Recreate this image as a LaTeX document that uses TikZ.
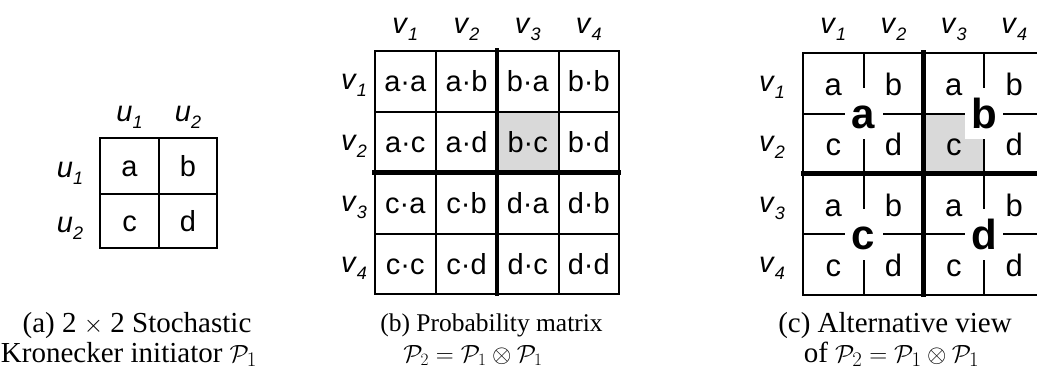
\documentclass[tikz,border=0pt]{standalone}
\usepackage{fontspec}
\setmainfont{Liberation Serif}
\setsansfont{Liberation Sans}
\newcommand{\lbl}[2]{\textit{#1}\raisebox{-0.25em}{\fontsize{18}{18}\selectfont\textit{#2}}}
\tikzset{
  ln/.style={line width=2pt, line cap=rect},
  thk/.style={line width=4.5pt, line cap=rect},
  hdr/.style={font=\sffamily\fontsize{29}{29}\selectfont, anchor=base, inner sep=0pt},
  cella/.style={font=\sffamily\fontsize{29}{29}\selectfont, anchor=base, inner sep=0pt},
  cellb/.style={font=\sffamily\fontsize{29}{29}\selectfont, anchor=base, inner sep=0pt},
  cellc/.style={font=\sffamily\fontsize{31}{31}\selectfont, anchor=base, inner sep=0pt},
  big/.style={fill=white, minimum width=38pt, minimum height=51pt, inner sep=0pt,
    text height=30pt, text depth=0pt, font=\sffamily\bfseries\fontsize{42}{42}\selectfont},
  captext/.style={font=\fontsize{29}{29}\selectfont, anchor=base, inner sep=0pt},
  captextb/.style={font=\fontsize{25.5}{25.5}\selectfont, anchor=base, inner sep=0pt},
  shade/.style={fill=black!15}
}
\begin{document}
\begin{tikzpicture}[x=1pt, y=-1pt]
\useasboundingbox (0,0) rectangle (1037,373);
\clip (0,0) rectangle (1037,373);

% ---------- panel (a) ----------
\draw[ln] (100,138) rectangle (217,248);
\draw[ln] (159,138) -- (159,248);
\draw[ln] (100,193.5) -- (217,193.5);
\node[hdr] (ahu1) at (129.5,121) {\lbl{u}{1}};
\node[hdr] (ahu2) at (188,121) {\lbl{u}{2}};
\node[hdr] (aru1) at (70,177) {\lbl{u}{1}};
\node[hdr] (aru2) at (70,232) {\lbl{u}{2}};
\node[cella] (a11) at (129.5,176) {a};
\node[cella] (a12) at (188,176) {b};
\node[cella] (a21) at (129.5,231) {c};
\node[cella] (a22) at (188,231) {d};

% ---------- panel (b) ----------
\fill[shade] (497,111.5) rectangle (558.5,172.5);
\draw[ln] (374.5,50.5) rectangle (619,294);
\foreach \x in {436,558.5} \draw[ln] (\x,50.5) -- (\x,294);
\foreach \y in {111.5,233.5} \draw[ln] (374.5,\y) -- (619,\y);
\draw[thk] (497,50.5) -- (497,294);
\draw[thk] (374.5,172.5) -- (619,172.5);
\foreach \x/\i in {405.25/1,466.5/2,527.75/3,588.75/4}
  \node[hdr] (bh\i) at (\x,33) {\lbl{v}{\i}};
\foreach \y/\i in {89/1,150/2,211/3,272/4}
  \node[hdr] (br\i) at (354,\y) {\lbl{v}{\i}};
\foreach \x/\y/\t/\n in {
  405.25/91/a·a/11, 466.5/91/a·b/12, 527.75/91/b·a/13, 588.75/91/b·b/14,
  405.25/152/a·c/21, 466.5/152/a·d/22, 527.75/152/b·c/23, 588.75/152/b·d/24,
  405.25/213/c·a/31, 466.5/213/c·b/32, 527.75/213/d·a/33, 588.75/213/d·b/34,
  405.25/274/c·c/41, 466.5/274/c·d/42, 527.75/274/d·c/43, 588.75/274/d·d/44}
  \node[cellb] (b\n) at (\x,\y) {\t};

% ---------- panel (c) ----------
\fill[shade] (923.5,113.5) rectangle (984,173.5);
\draw[ln] (803,52.5) rectangle (1044.5,295);
\foreach \x in {863.5,984} \draw[ln] (\x,52.5) -- (\x,295);
\foreach \y in {113.5,234} \draw[ln] (803,\y) -- (1044.5,\y);
\draw[thk] (923.5,52.5) -- (923.5,295);
\draw[thk] (803,173.5) -- (1044.5,173.5);
\foreach \x/\i in {833.25/1,893.5/2,953.75/3,1014.25/4}
  \node[hdr] (ch\i) at (\x,33) {\lbl{v}{\i}};
\foreach \y/\i in {91/1,151.5/2,212/3,272.5/4}
  \node[hdr] (cr\i) at (772,\y) {\lbl{v}{\i}};
\foreach \x/\y/\t/\n in {
  833.25/95/a/11, 893.5/95/b/12, 953.75/95/a/13, 1014.25/95/b/14,
  833.25/155.5/c/21, 893.5/155.5/d/22, 953.75/155.5/c/23, 1014.25/155.5/d/24,
  833.25/216/a/31, 893.5/216/b/32, 953.75/216/a/33, 1014.25/216/b/34,
  833.25/276.5/c/41, 893.5/276.5/d/42, 953.75/276.5/c/43, 1014.25/276.5/d/44}
  \node[cellc] (c\n) at (\x,\y) {\t};
\node[big] (qa) at (863.5,113.5) {a};
\node[big] (qb) at (984,113.5) {b};
\node[big] (qc) at (863.5,234) {c};
\node[big] (qd) at (984,234) {d};

% ---------- captions ----------
\node[captext] (capa1) at (137,332) {(a) 2 $\times$ 2 Stochastic};
\node[captext] (capa2) at (129,362) {Kronecker initiator $\mathcal{P}_1$};
\node[captextb] (capb1) at (491.5,331) {(b) Probability matrix};
\node[captextb] (capb2) at (473,362) {$\mathcal{P}_2=\mathcal{P}_1\otimes\mathcal{P}_1$};
\node[captext] (capc1) at (895,332) {(c) Alternative view};
\node[captext] (capc2) at (891.5,362) {of $\mathcal{P}_2=\mathcal{P}_1\otimes\mathcal{P}_1$};
\end{tikzpicture}
\end{document}
